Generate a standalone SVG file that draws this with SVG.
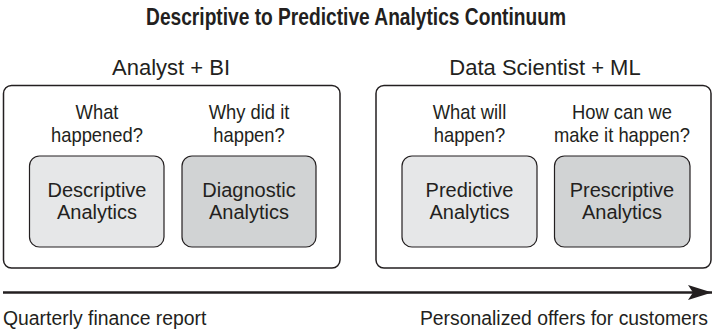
<svg xmlns="http://www.w3.org/2000/svg" width="713" height="329" viewBox="0 0 713 329">
  <defs>
    <style>
      text { font-family: "Liberation Sans", Arial, sans-serif; fill: #231f20; transform-box: fill-box; }
      .title { font-size: 23px; font-weight: bold; text-anchor: middle; transform-origin: center; transform: scaleX(0.834); }
      .head { font-size: 22px; text-anchor: middle; }
      .q { font-size: 20px; text-anchor: middle; transform-origin: center; transform: scaleX(0.92); }
      .lbl { font-size: 20px; text-anchor: middle; }
      .foot { font-size: 21px; transform: scaleX(0.923); }
      .left { transform-origin: left center; }
      .right { text-anchor: end; transform-origin: right center; }
      .outer { fill: #ffffff; stroke: #231f20; stroke-width: 1.5; }
      .light { fill: #e6e7e8; stroke: #231f20; stroke-width: 1.2; }
      .dark { fill: #d1d3d4; stroke: #231f20; stroke-width: 1.2; }
    </style>
    <marker id="arrow" markerWidth="24" markerHeight="16" refX="24" refY="8" orient="auto" markerUnits="userSpaceOnUse">
      <path d="M0,0.5 L24,8 L0,15.5 L5,8 Z" fill="#231f20"/>
    </marker>
  </defs>

  <text class="title" x="356" y="25">Descriptive to Predictive Analytics Continuum</text>

  <g id="group-analyst">
    <text class="head" x="171" y="75">Analyst + BI</text>
    <rect class="outer" x="3.5" y="85.5" width="336.5" height="182.5" rx="8"/>
  </g>
  <g id="group-datascientist">
    <text class="head" x="545" y="75">Data Scientist + ML</text>
    <rect class="outer" x="376" y="85.5" width="335" height="182.5" rx="8"/>
  </g>

  <g id="descriptive">
    <text class="q" x="97" y="119">What</text>
    <text class="q" x="97" y="142">happened?</text>
    <rect class="light" x="29.5" y="156" width="134.5" height="91" rx="10"/>
    <text class="lbl" x="97" y="197">Descriptive</text>
    <text class="lbl" x="97" y="219">Analytics</text>
  </g>
  <g id="diagnostic">
    <text class="q" x="249" y="119">Why did it</text>
    <text class="q" x="249" y="142">happen?</text>
    <rect class="dark" x="182" y="156" width="134" height="91" rx="10"/>
    <text class="lbl" x="249" y="197">Diagnostic</text>
    <text class="lbl" x="249" y="219">Analytics</text>
  </g>
  <g id="predictive">
    <text class="q" x="469.5" y="119">What will</text>
    <text class="q" x="469.5" y="142">happen?</text>
    <rect class="light" x="402" y="156" width="135" height="91" rx="10"/>
    <text class="lbl" x="469.5" y="197">Predictive</text>
    <text class="lbl" x="469.5" y="219">Analytics</text>
  </g>
  <g id="prescriptive">
    <text class="q" x="622" y="119">How can we</text>
    <text class="q" x="622" y="142">make it happen?</text>
    <rect class="dark" x="554.5" y="156" width="135.5" height="91" rx="10"/>
    <text class="lbl" x="622" y="197">Prescriptive</text>
    <text class="lbl" x="622" y="219">Analytics</text>
  </g>

  <g id="connectors">
    <line x1="3" y1="292.5" x2="712" y2="292.5" stroke="#231f20" stroke-width="2.5" marker-end="url(#arrow)"/>
  </g>

  <text class="foot left" x="3" y="325">Quarterly finance report</text>
  <text class="foot right" x="708" y="325">Personalized offers for customers</text>
</svg>
